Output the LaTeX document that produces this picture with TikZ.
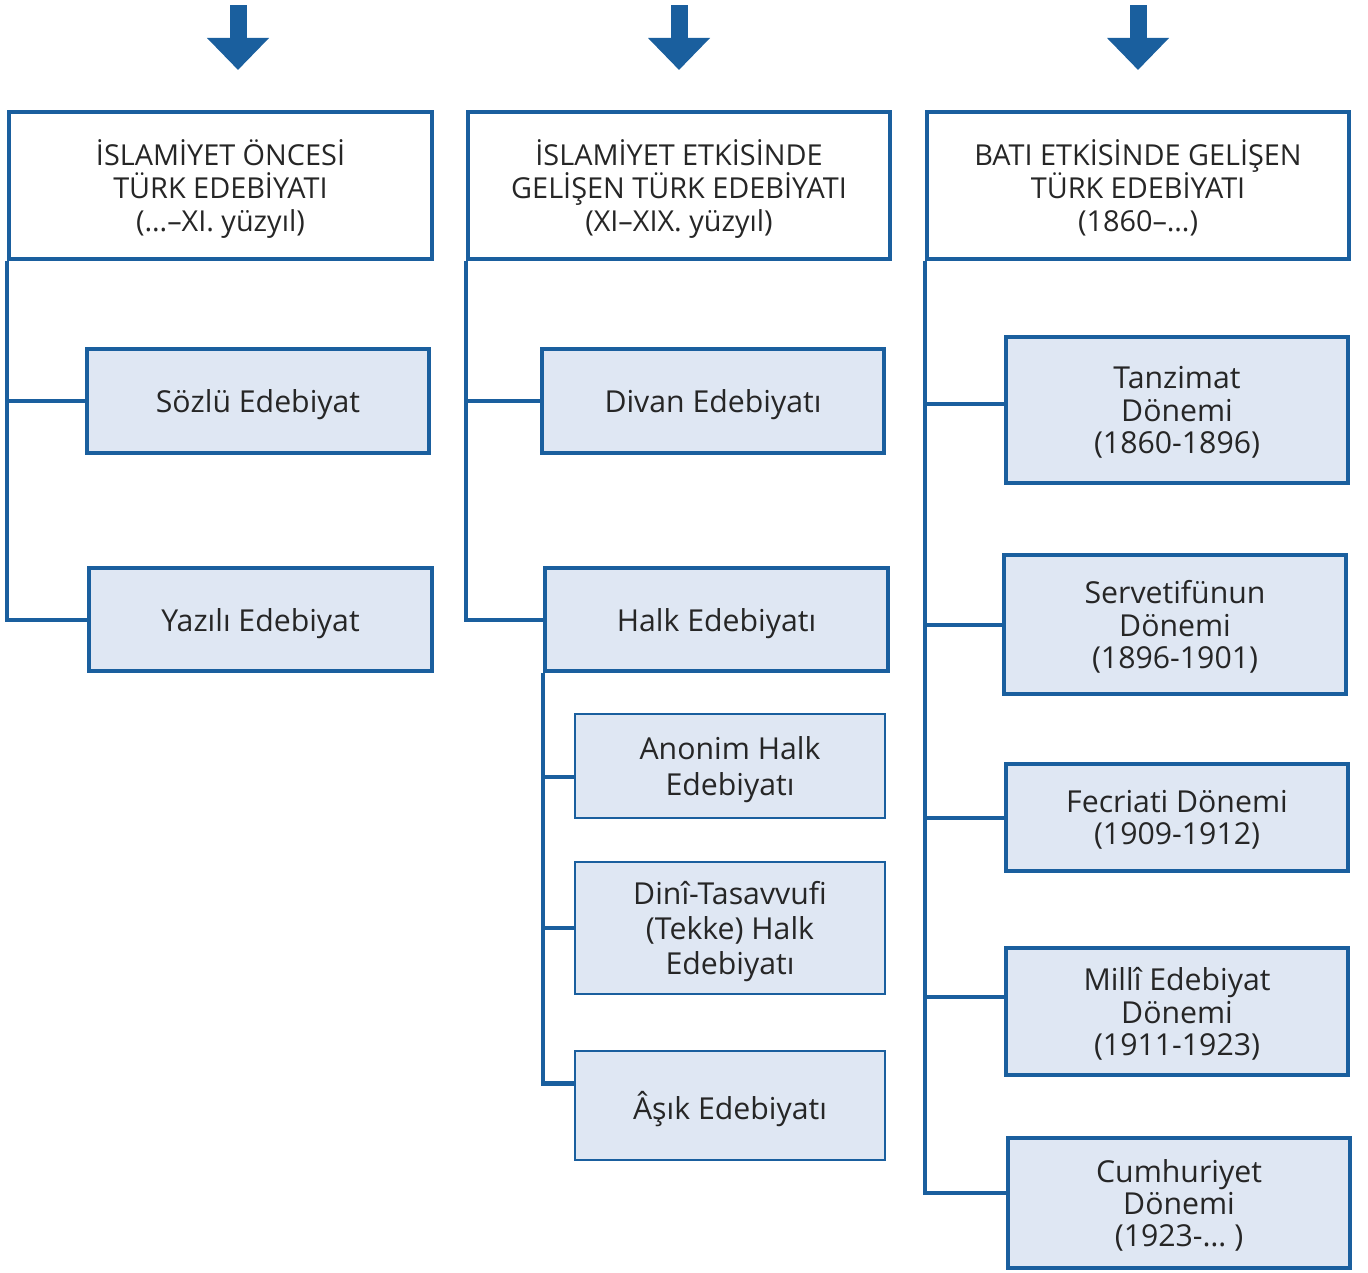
\documentclass[tikz,border=0pt]{standalone}
\usepackage{fontspec}
\setmainfont{Open Sans}
\usetikzlibrary{arrows.meta,positioning}

\definecolor{edblue}{HTML}{1A5F9E}
\definecolor{edfill}{HTML}{DFE7F3}

\begin{document}
\begin{tikzpicture}[
    x=0.01cm, y=-0.01cm,
    header/.style={rectangle, draw=edblue, line width=1.15pt, fill=white, text=black!85, align=center, minimum width=4.22cm, minimum height=1.47cm, inner sep=0pt, text depth=0pt, font=\fontsize{8.2}{9.4}\selectfont},
    period/.style={rectangle, draw=edblue, line width=1.15pt, fill=edfill, text=black!85, align=center, minimum width=3.42cm, inner sep=0pt, text depth=0pt, font=\fontsize{8.6}{9.2}\selectfont},
    subtype/.style={rectangle, draw=edblue, line width=0.5pt, fill=edfill, text=black!85, align=center, minimum width=3.1cm, inner sep=0pt, text depth=0pt, font=\fontsize{8.6}{10}\selectfont},
    link/.style={draw=edblue, line width=1.15pt},
    bigarrow/.style={draw=edblue, line width=0.17cm, -{Triangle[width=0.6cm,length=0.32cm]}}
]
\useasboundingbox (0,0) rectangle (1368,1272);

% arrows on top
\foreach \x in {238,679,1138}
    \draw[bigarrow] (\x,5) -- (\x,70);

% headers
\node[header] (h1) at (220.5,185.5) {İSLAMİYET ÖNCESİ\\TÜRK EDEBİYATI\\(…–XI. yüzyıl)};
\node[header] (h2) at (679,185.5) {İSLAMİYET ETKİSİNDE\\GELİŞEN TÜRK EDEBİYATI\\(XI–XIX. yüzyıl)};
\node[header] (h3) at (1138,185.5) {BATI ETKİSİNDE GELİŞEN\\TÜRK EDEBİYATI\\(1860–…)};

% first column
\node[period, minimum height=1.04cm] (sozlu) at (258,401) {Sözlü Edebiyat};
\node[period, minimum height=1.03cm] (yazili) at (260.5,619.5) {Yazılı Edebiyat};

% second column
\node[period, minimum height=1.04cm] (divan) at (713,401) {Divan Edebiyatı};
\node[period, minimum height=1.03cm] (halk) at (716.5,619.5) {Halk Edebiyatı};
\node[subtype, minimum height=1.04cm] (anonim) at (730,766) {Anonim Halk\\Edebiyatı};
\node[subtype, minimum height=1.32cm] (tekke) at (730,928) {Dinî-Tasavvufi\\(Tekke) Halk\\Edebiyatı};
\node[subtype, minimum height=1.09cm] (asik) at (730,1105.5) {Âşık Edebiyatı};

% third column
\node[period, minimum height=1.46cm] (tanzimat) at (1177,410) {Tanzimat\\Dönemi\\(1860-1896)};
\node[period, minimum height=1.39cm] (servet) at (1175,624.5) {Servetifünun\\Dönemi\\(1896-1901)};
\node[period, minimum height=1.07cm] (fecr) at (1177,817.5) {Fecriati Dönemi\\(1909-1912)};
\node[period, minimum height=1.27cm] (milli) at (1177,1011.5) {Millî Edebiyat\\Dönemi\\(1911-1923)};
\node[period, minimum height=1.30cm] (cumhuriyet) at (1179,1203) {Cumhuriyet\\Dönemi\\(1923-… )};

% links
\draw[link] (h1.south west) |- (yazili.west);
\draw[link] (h1.south west |- sozlu.west) -- (sozlu.west);

\draw[link] (h2.south west) |- (halk.west);
\draw[link] (h2.south west |- divan.west) -- (divan.west);
\draw[link] (halk.south west) |- ([yshift=0.22cm]asik.west);
\draw[link] (halk.south west |- tekke.west) -- (tekke.west);
\draw[link] ([yshift=-0.11cm]halk.south west |- anonim.west) -- ([yshift=-0.11cm]anonim.west);

\draw[link] (h3.south west) |- ([yshift=0.1cm]cumhuriyet.west);
\draw[link] ([yshift=0.06cm]h3.south west |- tanzimat.west) -- ([yshift=0.06cm]tanzimat.west);
\draw[link] (h3.south west |- servet.west) -- (servet.west);
\draw[link] (h3.south west |- fecr.west) -- (fecr.west);
\draw[link] ([yshift=0.15cm]h3.south west |- milli.west) -- ([yshift=0.15cm]milli.west);

\end{tikzpicture}
\end{document}
